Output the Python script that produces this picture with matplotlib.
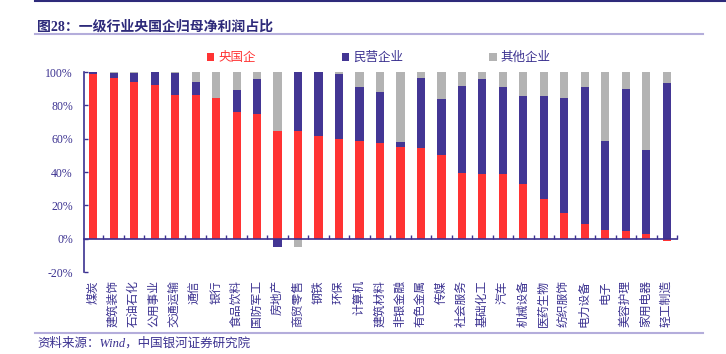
import matplotlib.pyplot as plt
import matplotlib.transforms as mtransforms
import numpy as np

plt.rcParams['font.family'] = ['Liberation Serif', 'Noto Sans CJK SC']
plt.rcParams['axes.unicode_minus'] = False

industries = ['煤炭', '建筑装饰', '石油石化', '公用事业', '交通运输', '通信', '银行',
              '食品饮料', '国防军工', '房地产', '商贸零售', '钢铁', '环保', '计算机',
              '建筑材料', '非银金融', '有色金属', '传媒', '社会服务', '基础化工', '汽车',
              '机械设备', '医药生物', '纺织服饰', '电力设备', '电子', '美容护理',
              '家用电器', '轻工制造']
soe = [98.8, 96.4, 94.0, 92.0, 86.4, 86.4, 84.2, 76.0, 74.8, 64.6, 64.8, 61.4, 60.0,
       58.8, 57.2, 55.0, 54.2, 50.4, 39.4, 38.8, 38.8, 32.6, 24.0, 15.6, 8.6, 5.4,
       4.8, 3.0, -1.2]
private = [1.2, 2.8, 5.2, 8.0, 12.8, 7.6, 0.0, 13.0, 20.8, -5.0, 35.2, 38.6, 38.8,
           32.2, 30.8, 3.0, 42.0, 33.2, 52.0, 56.8, 52.4, 52.8, 61.8, 68.6, 82.4, 53.4,
           85.2, 50.0, 93.6]
other = [0.0, 0.8, 0.8, 0.0, 0.8, 6.0, 15.8, 11.0, 4.4, 35.4, -5.0, 0.0, 1.2, 9.0,
         12.0, 42.0, 3.8, 16.4, 8.6, 4.4, 8.8, 14.6, 14.2, 15.8, 9.0, 41.2, 10.0, 47.0,
         6.4]
names = ['央国企', '民营企业', '其他企业']

navy = '#3b3190'
colors = ['#ff3333', '#433694', '#b3b3b3']

fig = plt.figure(figsize=(7.26, 3.54), dpi=100)
ax = fig.add_axes([0.1157, 0.2316, 0.8168, 0.565])

x = np.arange(len(industries))
pos = np.zeros(len(x))
neg = np.zeros(len(x))
handles = []
for vals, c, name in zip([soe, private, other], colors, names):
    v = np.array(vals)
    bottom = np.where(v >= 0, pos, neg)
    h = ax.bar(x, v, 0.4, bottom=bottom, color=c, label=name, zorder=2)
    handles.append(h)
    pos = pos + np.where(v > 0, v, 0)
    neg = neg + np.where(v < 0, v, 0)

ax.set_ylim(-20, 100)
ax.set_xlim(-0.45, len(x) - 0.5)
ax.set_yticks(range(-20, 101, 20))
ax.set_yticklabels([f'{t}%' for t in range(-20, 101, 20)])
ax.set_xticks(x + 0.5)
ax.set_xticklabels([])
ax.tick_params(axis='x', direction='in', length=3, width=1, color=navy)
ax.tick_params(axis='y', direction='in', length=3, width=1, color=navy,
               labelcolor=navy, labelsize=8.5, pad=8)

for s in ['top', 'right']:
    ax.spines[s].set_visible(False)
ax.spines['bottom'].set_position(('data', 0))
ax.spines['bottom'].set_color(navy)
ax.spines['left'].set_color(navy)
ax.spines['bottom'].set_linewidth(1.2)
ax.spines['left'].set_linewidth(1.2)

# category labels sit under the -20% line, rotated like the original
trans = mtransforms.blended_transform_factory(ax.transData, ax.transAxes)
for i, name in enumerate(industries):
    ax.text(i, -0.04, name, transform=trans, ha='center', va='top',
            rotation=90, fontsize=8.5, color=navy)

ax.legend(handles=handles, ncol=3, loc='center',
          bbox_to_anchor=(0.497, 1.07), frameon=False, fontsize=9,
          handlelength=0.6, handleheight=0.6, handletextpad=0.3,
          columnspacing=6.9, labelcolor=['#ff3333', navy, navy])

fig.text(0.051, 0.925, '图28：一级行业央国企归母净利润占比', fontsize=10,
         fontweight='bold', color='#2e2a7a', va='center')
fig.add_artist(plt.Line2D([0.048, 1.0], [0.997, 0.997], color='#2e2a7a', lw=1.5))
fig.add_artist(plt.Line2D([0.048, 0.968], [0.904, 0.904], color='#b4addb', lw=1.5))
fig.add_artist(plt.Line2D([0.048, 0.968], [0.06, 0.06], color='#b4addb', lw=1.5))
fig.text(0.051, 0.031, '资料来源：Wind，中国银河证券研究院', fontsize=9,
         style='italic', color=navy, va='center')

fig.savefig('out.png', dpi=100)
